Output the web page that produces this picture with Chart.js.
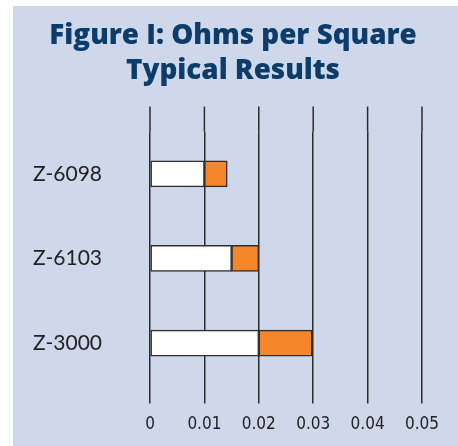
<!DOCTYPE html>
<html>
<head>
<meta charset="utf-8">
<script src="https://cdn.jsdelivr.net/npm/chart.js@4"></script>
<style>
  html, body { margin: 0; padding: 0; background: #ffffff; }
  #wrap { position: absolute; left: 13px; top: 6px; width: 445px; height: 440px; }
</style>
</head>
<body>
<div id="wrap"><canvas id="ohmsChart"></canvas></div>
<script>
const categories = ['Z-6098', 'Z-6103', 'Z-3000'];
const baseValues = [0.01, 0.015, 0.02];
const extraValues = [0.0042, 0.005, 0.0098];
const tickValues = [0, 0.01, 0.02, 0.03, 0.04, 0.05];

// panel background
const panelBg = {
    id: 'panelBg',
    beforeDraw(chart) {
        const ctx = chart.ctx;
        ctx.save();
        ctx.fillStyle = '#cfd8eb';
        ctx.fillRect(0, 0, chart.width, chart.height);
        ctx.restore();
    }
};

// center the title on the whole panel, not on the padded box
const titleSpan = {
    id: 'titleSpan',
    afterLayout(chart) {
        chart.titleBlock.left = 0;
        chart.titleBlock.right = 440;
    }
};

// grid lines run a bit above the plot area in the original
const gridTop = {
    id: 'gridTop',
    beforeDatasetsDraw(chart) {
        const ctx = chart.ctx;
        const x = chart.scales.x;
        const top = chart.chartArea.top;
        ctx.save();
        ctx.strokeStyle = '#2b2b2b';
        ctx.lineWidth = 1.5;
        tickValues.forEach(v => {
            const px = x.getPixelForValue(v);
            ctx.beginPath();
            ctx.moveTo(px, top - 25);
            ctx.lineTo(px, top);
            ctx.stroke();
        });
        ctx.restore();
    }
};

const ctx = document.getElementById('ohmsChart').getContext('2d');
const ohmsChart = new Chart(ctx, {
    type: 'bar',
    data: {
        labels: categories,
        datasets: [{
            label: 'Base',
            data: baseValues,
            backgroundColor: '#ffffff',
            borderColor: '#2f2f2f',
            borderWidth: 1.5,
            borderSkipped: false,
            barThickness: 26
        }, {
            label: 'Extra',
            data: extraValues,
            backgroundColor: '#f5872a',
            borderColor: '#2f2f2f',
            borderWidth: 1.5,
            borderSkipped: false,
            barThickness: 26
        }]
    },
    options: {
        indexAxis: 'y',
        responsive: true,
        maintainAspectRatio: false,
        animation: false,
        layout: {
            padding: { left: 0, right: 36, top: 0, bottom: -6 }
        },
        plugins: {
            legend: { display: false },
            tooltip: { enabled: false },
            title: {
                display: true,
                text: ['Figure I: Ohms per Square', 'Typical Results'],
                color: '#0c3d6a',
                font: { family: 'Open Sans', size: 27.8, weight: '800', lineHeight: 1.25 },
                padding: { top: 13, bottom: 43 }
            }
        },
        scales: {
            x: {
                stacked: true,
                min: 0,
                max: 0.05,
                afterBuildTicks(axis) {
                    axis.ticks = tickValues.map(v => ({ value: v }));
                },
                border: { display: false },
                grid: {
                    color: '#2b2b2b',
                    lineWidth: 1.5,
                    drawTicks: true,
                    tickLength: 18,
                    tickColor: '#2b2b2b'
                },
                ticks: {
                    color: '#222222',
                    padding: 13,
                    font: { family: "'Liberation Sans Narrow', 'DejaVu Sans Condensed', 'Roboto', sans-serif", size: 17, lineHeight: 1.0 },
                    callback: v => String(v)
                }
            },
            y: {
                stacked: true,
                border: { display: false },
                grid: { display: false, drawTicks: false },
                afterFit(axis) {
                    axis.width = 137;
                },
                ticks: {
                    color: '#222222',
                    padding: 48,
                    font: { family: 'Lato', size: 21 }
                }
            }
        }
    },
    plugins: [panelBg, titleSpan, gridTop]
});
</script>
</body>
</html>
